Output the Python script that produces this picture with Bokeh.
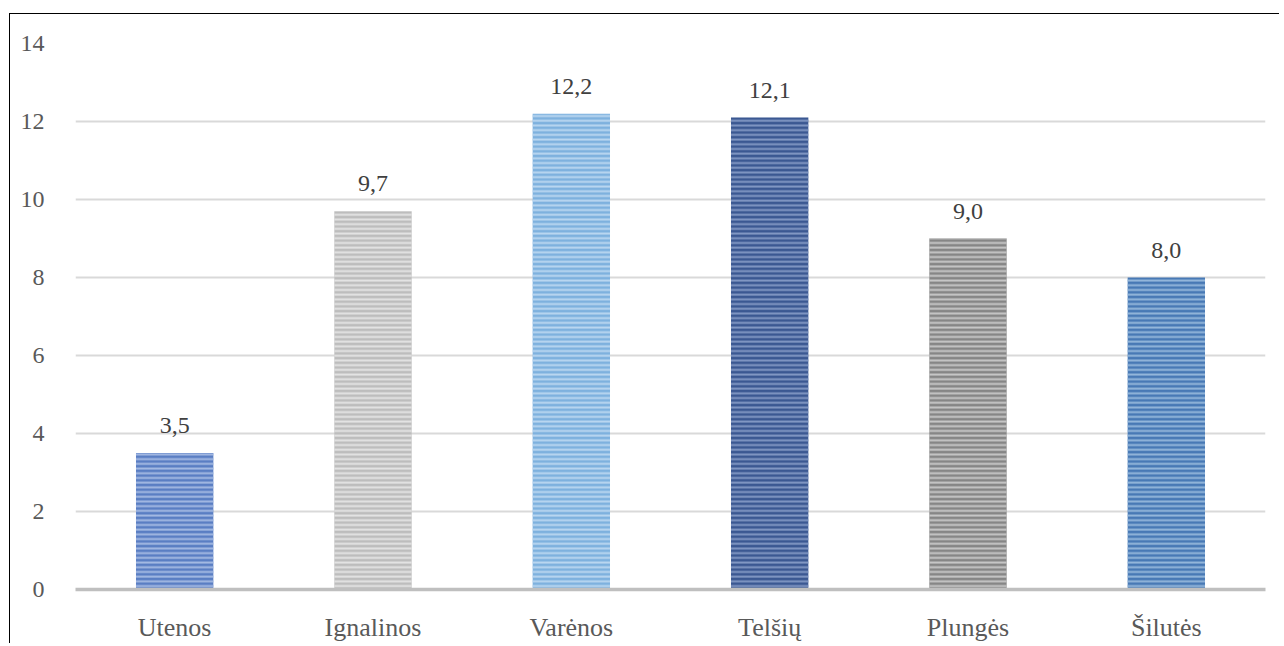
from bokeh.plotting import figure
from bokeh.models import ColumnDataSource, Range1d, FactorRange, LabelSet, FixedTicker
from bokeh.embed import file_html
from bokeh.resources import INLINE

categories = ["Utenos", "Ignalinos", "Varėnos", "Telšių", "Plungės", "Šilutės"]
values = [3.5, 9.7, 12.2, 12.1, 9.0, 8.0]
labels = ["3,5", "9,7", "12,2", "12,1", "9,0", "8,0"]
fill_colors = ["#5a7ec3", "#bdbdbd", "#7eb1de", "#3b5892", "#868686", "#4879b5"]
stripe_colors = ["#a3b9e2", "#e3e3e3", "#b9d6f0", "#8197c3", "#c6c6c6", "#93b6da"]
y_ticks = [0, 2, 4, 6, 8, 10, 12, 14]
grid_ticks = [2, 4, 6, 8, 10, 12, 14]

FONT = "Liberation Serif"

src = ColumnDataSource(dict(cat=categories, val=values, lab=labels,
                            fc=fill_colors, hc=stripe_colors))

p = figure(width=1270, height=630, output_backend="svg", toolbar_location=None,
           x_range=FactorRange(*categories), y_range=Range1d(0, 14),
           min_border_left=65, min_border_right=15, min_border_top=29,
           min_border_bottom=55)

p.styles = {"border-left": "1.5px solid #000000", "border-top": "1.5px solid #000000",
            "margin-left": "9px", "margin-top": "12.5px"}

p.vbar(x="cat", top="val", width=0.39, source=src, fill_color="fc",
       line_color=None, hatch_pattern="horizontal_line", hatch_color="hc",
       hatch_scale=4.7, hatch_weight=2)

p.add_layout(LabelSet(x="cat", y="val", text="lab", source=src, y_offset=20,
                      text_align="center", text_baseline="alphabetic",
                      text_font=FONT, text_font_size="24px", text_color="#404040"))

p.outline_line_color = None
p.xgrid.grid_line_color = None
p.ygrid.grid_line_color = "#d9d9d9"
p.ygrid.grid_line_width = 2
p.ygrid.ticker = FixedTicker(ticks=grid_ticks)

p.yaxis.ticker = FixedTicker(ticks=y_ticks)
p.yaxis.axis_line_color = None
p.yaxis.major_tick_line_color = None
p.yaxis.minor_tick_line_color = None
p.yaxis.major_label_standoff = 25
p.yaxis.major_label_text_font = FONT
p.yaxis.major_label_text_font_size = "24px"
p.yaxis.major_label_text_color = "#595959"

p.xaxis.axis_line_color = "#bfbfbf"
p.xaxis.axis_line_width = 3.5
p.xaxis.major_tick_line_color = None
p.xaxis.minor_tick_line_color = None
p.xaxis.major_label_standoff = 17
p.xaxis.major_label_text_font = FONT
p.xaxis.major_label_text_font_size = "26px"
p.xaxis.major_label_text_color = "#595959"

open("out.html", "w").write(file_html(p, INLINE))
